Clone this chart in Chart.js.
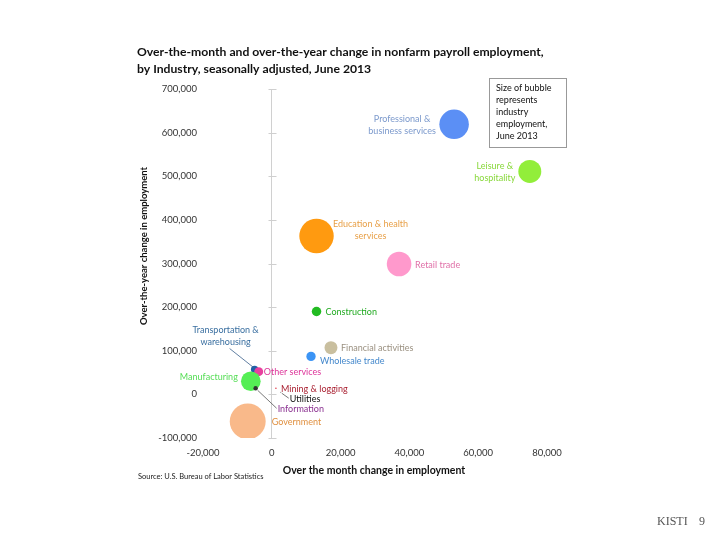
<!DOCTYPE html>
<html>
<head>
<meta charset="utf-8">
<script src="https://cdn.jsdelivr.net/npm/chart.js@4.4.1/dist/chart.umd.min.js"></script>
<style>
html,body{margin:0;padding:0;background:#fff}
#wrap{width:720px;height:540px}
</style>
</head>
<body>
<div id="wrap"><canvas id="chart" width="720" height="540"></canvas></div>
<script>
// industries, June 2013 (BLS)
const industries=["Professional &\nbusiness services","Leisure &\nhospitality","Education & health\nservices","Retail trade","Construction","Financial activities","Wholesale trade","Transportation &\nwarehousing","Other services","Manufacturing","Mining & logging","Utilities","Information","Government"];
const monthChange=[53000,75000,13000,37000,13000,17200,11400,-5000,-3800,-6100,1200,2600,-4700,-7000];
const yearChange=[619000,511000,363000,299000,190000,107000,87000,57000,52000,30000,14000,5000,14000,-62000];
const employment=[18000,14000,21000,15000,5800,7900,5700,4500,5450,12000,860,550,2700,21900]; // thousands
const xTicks=[-20000,0,20000,40000,60000,80000];
const yTicks=[-100000,0,100000,200000,300000,400000,500000,600000,700000];

const bubbleColors=["#5b8ff5","#92ee3a","#ff9a10","#ff99cc","#22bb22","#c9bf9f","#3b94f5","#1f5fa8","#e8409e","#55ee55","#dd2233","#444444","#333333","#f9b98a"];
const textColors=["#7b99cc","#88d83a","#e8a048","#e070a8","#22aa22","#9a9080","#4488cc","#3a6fa0","#dd3399","#55dd55","#aa2233","#111111","#8a3090","#e09040"];
// label placement relative to bubble centre: dx, dy, align, leader line
const labelOffsets=[
  [-52,-5,"center"],[-35,-5,"center"],[54,-12,"center"],[16,1,"left"],[9,1,"left"],
  [10,0,"left"],[9,5,"left"],[-29,-39,"center",[-25,-21,-1,-2]],[5,0,"left"],[-13,-4,"right"],
  [5,1,"left"],[9,7,"left",[1,1,8,6]],[22,21,"left",[2,2,21,20]],[24,1,"left"]
];

const FONT="Lato, 'Open Sans', sans-serif";
const points=industries.map((n,i)=>({x:monthChange[i],y:yearChange[i],r:employment[i]/1220}));

const decor={
  id:"decor",
  afterDatasetsDraw(chart){
    const ctx=chart.ctx, xs=chart.scales.x, ys=chart.scales.y;
    ctx.save();
    // zero axis tick marks
    ctx.strokeStyle="#cfcfcf";ctx.lineWidth=1;
    const x0=Math.round(xs.getPixelForValue(0))+0.5;
    yTicks.forEach(v=>{
      const y=Math.round(ys.getPixelForValue(v))+0.5;
      ctx.beginPath();ctx.moveTo(x0-4,y);ctx.lineTo(x0+4,y);ctx.stroke();
    });
    // bubble labels
    const meta=chart.getDatasetMeta(0);
    ctx.font="9px "+FONT;ctx.textBaseline="middle";
    industries.forEach((name,i)=>{
      const el=meta.data[i], o=labelOffsets[i];
      ctx.fillStyle=textColors[i];ctx.textAlign=o[2];
      name.split("\n").forEach((ln,k)=>ctx.fillText(ln,el.x+o[0],el.y+o[1]+k*12));
      if(o[3]){
        ctx.strokeStyle=i===7?"#3a5f8a":"#555";ctx.lineWidth=0.8;
        ctx.beginPath();ctx.moveTo(el.x+o[3][0],el.y+o[3][1]);ctx.lineTo(el.x+o[3][2],el.y+o[3][3]);ctx.stroke();
      }
    });
    // title
    ctx.fillStyle="#111";ctx.textAlign="left";ctx.textBaseline="middle";
    ctx.font="bold 12.2px "+FONT;
    ctx.fillText("Over-the-month and over-the-year change in nonfarm payroll employment,",137,52);
    ctx.fillText("by Industry, seasonally adjusted, June 2013",137,69);
    // size note box
    ctx.strokeStyle="#999";ctx.lineWidth=1;ctx.strokeRect(489.5,78.5,77,69);
    ctx.font="9px "+FONT;ctx.fillStyle="#111";
    ["Size of bubble","represents","industry","employment,","June 2013"].forEach((t,k)=>ctx.fillText(t,496,88+k*12));
    // axis titles
    ctx.font="bold 10.5px "+FONT;ctx.textAlign="center";
    ctx.fillText("Over the month change in employment",374,471);
    ctx.save();ctx.translate(144,246);ctx.rotate(-Math.PI/2);
    ctx.font="bold 9.5px "+FONT;ctx.fillText("Over-the-year change in employment",0,0);ctx.restore();
    // source and footer
    ctx.textAlign="left";ctx.font="7.5px "+FONT;ctx.fillStyle="#222";
    ctx.fillText("Source: U.S. Bureau of Labor Statistics",138,477);
    ctx.font="12px 'Liberation Serif', serif";ctx.fillStyle="#555";
    ctx.fillText("KISTI",657,522);ctx.fillText("9",699,522);
    ctx.restore();
  }
};

new Chart(document.getElementById("chart"),{
  type:"bubble",
  data:{datasets:[{data:points,backgroundColor:bubbleColors,borderWidth:0,hoverBorderWidth:0}]},
  options:{
    responsive:false,animation:false,
    events:[],
    layout:{padding:{left:150,top:89,right:173,bottom:72}},
    plugins:{legend:{display:false},tooltip:{enabled:false},title:{display:false}},
    scales:{
      x:{type:"linear",min:-20000,max:80000,
        afterBuildTicks:s=>{s.ticks=xTicks.map(v=>({value:v}));},
        afterFit:s=>{s.height=30;},
        border:{display:false},
        grid:{drawTicks:false,color:c=>c.tick&&c.tick.value===0?"#d0d0d0":"rgba(0,0,0,0)"},
        ticks:{padding:9,color:"#333",font:{family:FONT,size:9.5},callback:v=>v.toLocaleString("en-US")}
      },
      y:{type:"linear",min:-100000,max:700000,
        afterBuildTicks:s=>{s.ticks=yTicks.map(v=>({value:v}));},
        afterFit:s=>{s.width=53;},
        border:{display:false},
        grid:{display:false,drawTicks:false},
        ticks:{padding:6,color:"#333",font:{family:FONT,size:9.5},callback:v=>v.toLocaleString("en-US")}
      }
    }
  },
  plugins:[decor]
});
</script>
</body>
</html>
